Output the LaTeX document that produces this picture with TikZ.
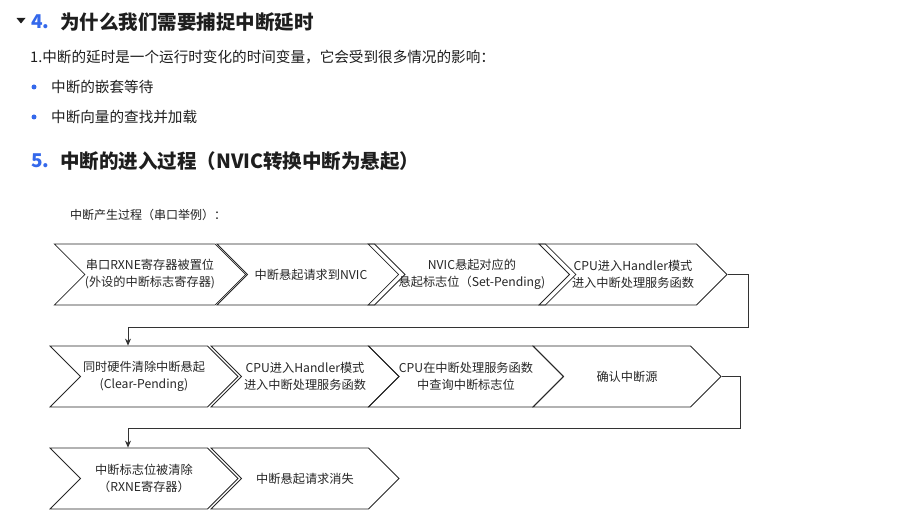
\documentclass[tikz,border=0pt]{standalone}
\usepackage{fontspec}
\setmainfont{Noto Sans CJK SC}
\usetikzlibrary{shapes.symbols,arrows.meta}
\definecolor{headblue}{RGB}{52,104,235}
\definecolor{inktext}{RGB}{30,30,30}

\begin{document}
\begin{tikzpicture}[x=1pt, y=-1pt,
  chev/.style={signal, signal to=east, signal from=west, signal pointer angle=90,
    draw=black!85, line width=0.8pt, minimum width=188pt, minimum height=61pt,
    inner sep=0pt, align=center, text=black!85, font=\fontsize{12.2}{17}\selectfont},
  head/.style={anchor=west, inner sep=0pt, text=inktext, font=\fontsize{19.5}{22}\selectfont\bfseries},
  num/.style={anchor=west, inner sep=0pt, text=headblue, font=\fontsize{19}{22}\selectfont\bfseries},
  body/.style={anchor=west, inner sep=0pt, text=inktext, font=\fontsize{14.6}{16}\selectfont},
  dot/.style={circle, fill=headblue, inner sep=0pt, minimum size=5pt},
  conn/.style={draw=black!80, line width=0.8pt, -{Stealth[length=7pt,width=6pt]}}
]
\useasboundingbox (0,0) rectangle (898,526);

% heading 4
\fill[inktext] (16.5,18) -- (25.5,18) -- (21,23.5) -- cycle;
\node[num] (n4) at (31,22) {4.};
\node[head] (h4) at (60,22) {为什么我们需要捕捉中断延时};
\node[body] (t1) at (30,57) {1.中断的延时是一个运行时变化的时间变量，它会受到很多情况的影响：};
\node[dot] (d1) at (34,87) {};
\node[body] (t2) at (51,87) {中断的嵌套等待};
\node[dot] (d2) at (34,117) {};
\node[body] (t3) at (51,117) {中断向量的查找并加载};

% heading 5
\node[num] (n5) at (31,161) {5.};
\node[head] (h5) at (60,161) {中断的进入过程（NVIC转换中断为悬起）};
\node[anchor=west, inner sep=0pt, text=inktext, font=\fontsize{12}{14}\selectfont] (cap) at (70,215)
  {中断产生过程（串口举例）：};

% row 1
\node[chev] (r1a) at (150,274.5) {串口RXNE寄存器被置位\\(外设的中断标志寄存器)};
\node[chev] (r1b) at (311,274.5) {中断悬起请求到NVIC};
\node[chev] (r1c) at (472,274.5) {NVIC悬起对应的\\悬起标志位（Set-Pending)};
\node[chev] (r1d) at (633,274.5) {CPU进入Handler模式\\进入中断处理服务函数};

% row 2
\node[chev] (r2a) at (144,376.5) {同时硬件清除中断悬起\\(Clear-Pending)};
\node[chev] (r2b) at (305,376.5) {CPU进入Handler模式\\进入中断处理服务函数};
\node[chev] (r2c) at (466,376.5) {CPU在中断处理服务函数\\中查询中断标志位};
\node[chev] (r2d) at (627,376.5) {确认中断源};

% row 3
\node[chev] (r3a) at (144,478.5) {中断标志位被清除\\（RXNE寄存器）};
\node[chev] (r3b) at (305,478.5) {中断悬起请求消失};

\coordinate (turn1) at (748,327);
\coordinate (turn2) at (740,428);
\draw[conn] (r1d.east) -| (turn1) -| ([xshift=-16pt]r2a.north);
\draw[conn] (r2d.east) -| (turn2) -| ([xshift=-16pt]r3a.north);
\end{tikzpicture}
\end{document}
